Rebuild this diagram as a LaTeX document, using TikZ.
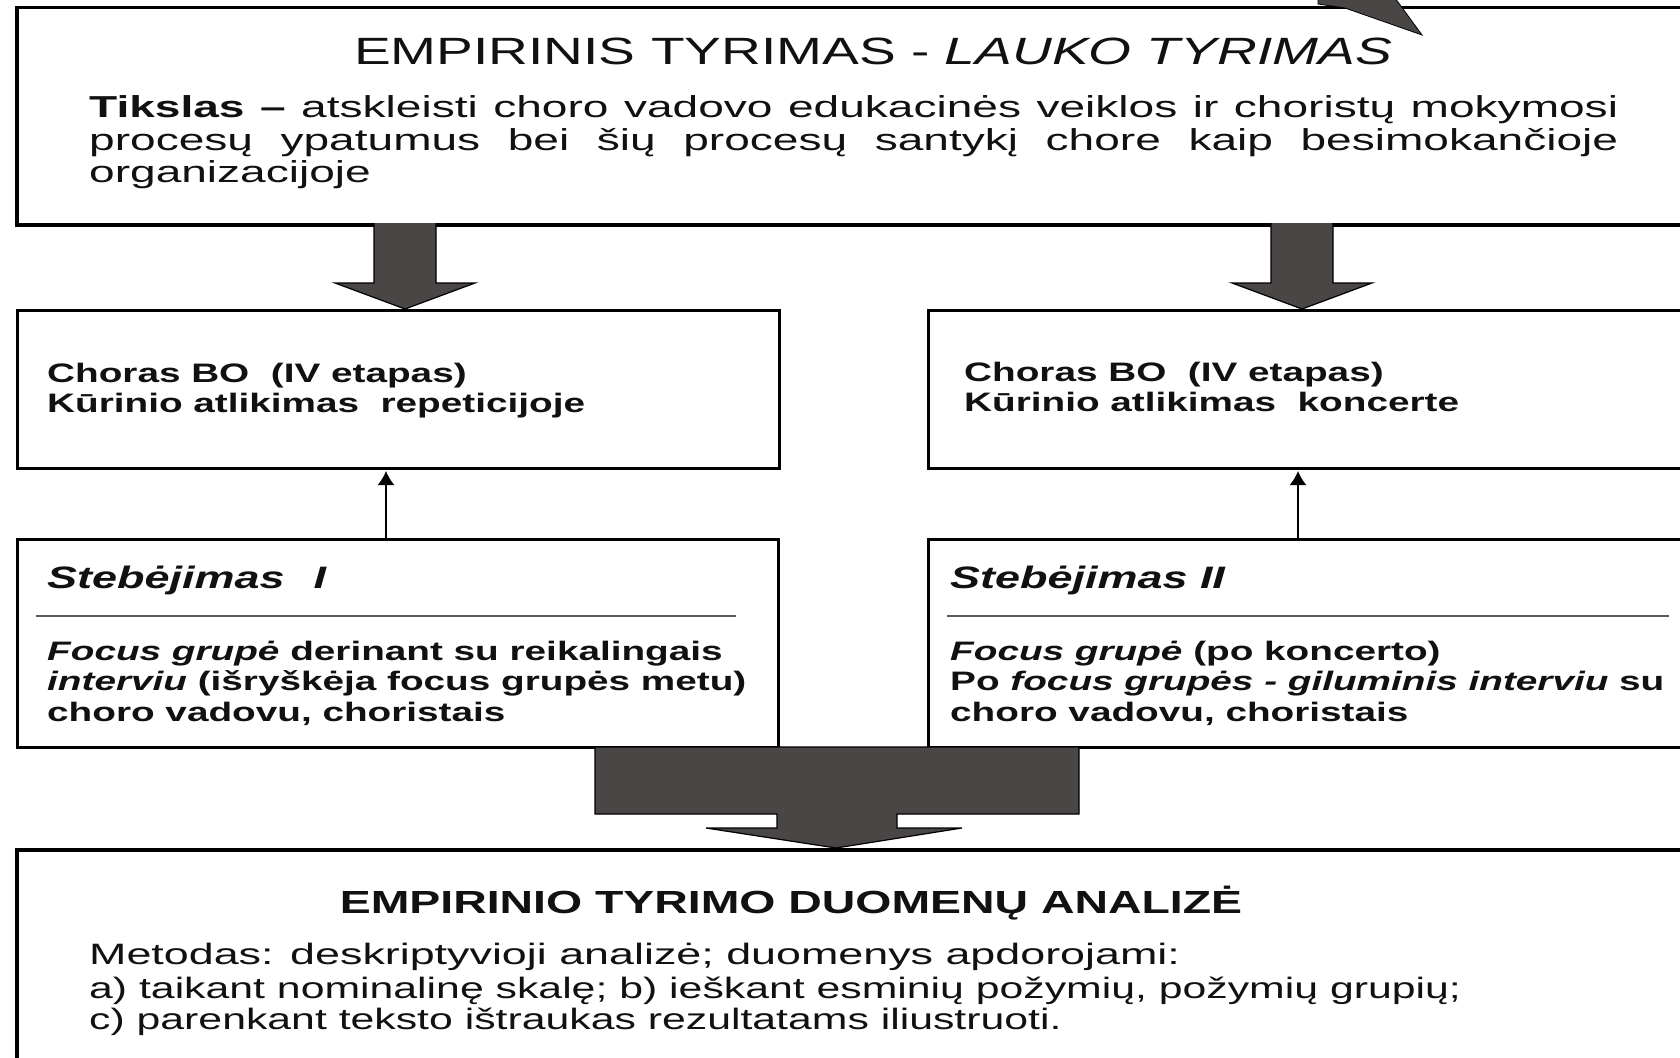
\documentclass[tikz,border=0pt]{standalone}
\usepackage{fontspec}
\setmainfont[FakeStretch=1.45]{Liberation Sans}
\newfontfamily\goalfont[FakeStretch=1.52]{Liberation Sans}
\usetikzlibrary{arrows.meta}
\definecolor{arrowgray}{HTML}{4A4646}
\definecolor{ink}{HTML}{111111}
\begin{document}
\begin{tikzpicture}[x=1pt,y=-1pt,
  frame/.style={draw=black, fill=white, inner sep=0pt, anchor=north west},
  txt/.style={inner sep=0pt, anchor=base west, text=ink},
  blockarrow/.style={fill=arrowgray, draw=black, line width=1.2pt, line join=miter},
  thinarrow/.style={line width=1.8pt, shorten >=1.5pt, -{Latex[length=14pt,width=17pt]}},
  sepline/.style={draw=black!65, line width=1.5pt},
  fgoal/.style={font=\goalfont\fontsize{30.3}{36}\selectfont},
  fbox/.style={font=\fontsize{26.7}{31}\selectfont\bfseries},
  fobs/.style={font=\fontsize{31}{36}\selectfont\bfseries\itshape},
  fmeth/.style={font=\fontsize{29.5}{34}\selectfont}]
\useasboundingbox (0,0) rectangle (1680,1057);
\clip (0,0) rectangle (1680,1057);
\fill[white] (0,0) rectangle (1680,1057);

% boxes
\node[frame, line width=3.5pt, minimum width=1700pt, minimum height=217pt] (goal) at (15,6) {};
\node[frame, line width=2.5pt, minimum width=762pt, minimum height=158pt] (c1) at (16,309) {};
\node[frame, line width=2.5pt, minimum width=800pt, minimum height=158pt] (c2) at (927,309) {};
\node[frame, line width=3pt, minimum width=761pt, minimum height=208pt] (s1) at (16,538) {};
\node[frame, line width=3pt, minimum width=800pt, minimum height=208pt] (s2) at (927,538) {};
\node[frame, line width=3.5pt, minimum width=1700pt, minimum height=240pt] (an) at (15,848) {};

% fragment of an arrow at the top right
\filldraw[blockarrow, line width=0.8pt] (1318,-2) -- (1395,-2) -- (1422,35) -- (1345,8) -- (1318,4) -- cycle;

% block arrows from the goal box
\filldraw[blockarrow] (374,223) -- (374,283) -- (335,283) -- (405,309) -- (475,283) -- (436,283) -- (436,223);
\filldraw[blockarrow] (1271,223) -- (1271,283) -- (1232,283) -- (1302,309) -- (1372,283) -- (1333,283) -- (1333,223);

% thin arrows
\coordinate (xa) at (386,0);
\coordinate (xb) at (1298,0);
\draw[thinarrow] (s1.north -| xa) -- (c1.south -| xa);
\draw[thinarrow] (s2.north -| xb) -- (c2.south -| xb);

% bottom block arrow
\filldraw[blockarrow] (595,747) -- (1079,747) -- (1079,814) -- (897,814) -- (897,828) -- (962,828)
  -- (836,848) -- (706,828) -- (777,828) -- (777,814) -- (595,814) -- cycle;

% goal text
\node[txt, anchor=base] (t0) at (873,65) {\fontsize{38}{44}\selectfont EMPIRINIS TYRIMAS - \itshape LAUKO TYRIMAS};
\node[txt, fgoal] (t1) at (89,117) {\makebox[1529pt][s]{\textbf{Tikslas –} atskleisti choro vadovo edukacinės veiklos ir choristų mokymosi}};
\node[txt, fgoal] (t2) at (89,150) {\makebox[1529pt][s]{procesų ypatumus bei šių procesų santykį chore kaip besimokančioje}};
\node[txt, fgoal] (t3) at (89,182) {organizacijoje};

% choir boxes
\node[txt, fbox] (c1a) at (47,382) {Choras BO\ \ (IV etapas)};
\node[txt, fbox] (c1b) at (47,412) {Kūrinio atlikimas\ \ repeticijoje};
\node[txt, fbox] (c2a) at (964,381) {Choras BO\ \ (IV etapas)};
\node[txt, fbox] (c2b) at (964,411) {Kūrinio atlikimas\ \ koncerte};

% observation boxes
\node[txt, fobs] (s1h) at (47,588) {Stebėjimas\hspace{29pt}I};
\node[txt, fobs] (s2h) at (950,588) {Stebėjimas II};
\draw[sepline] (36,616) -- (736,616);
\draw[sepline] (947,616) -- (1669,616);
\node[txt, fbox] (s1a) at (47,660) {\textit{Focus grupė} derinant su reikalingais};
\node[txt, fbox] (s1b) at (47,690) {\textit{interviu} (išryškėja focus grupės metu)};
\node[txt, fbox] (s1c) at (47,721) {choro vadovu, choristais};
\node[txt, fbox] (s2a) at (950,660) {\textit{Focus grupė} (po koncerto)};
\node[txt, fbox] (s2b) at (950,690) {Po \textit{focus grupės - giluminis interviu} su};
\node[txt, fbox] (s2c) at (950,721) {choro vadovu, choristais};

% analysis box
\node[txt, anchor=base] (a0) at (791,913) {\fontsize{32}{38}\selectfont\bfseries EMPIRINIO TYRIMO DUOMENŲ ANALIZĖ};
\node[txt, fmeth] (a1) at (89,964) {\goalfont Metodas: deskriptyvioji analizė; duomenys apdorojami:};
\node[txt, fmeth] (a2) at (89,998) {a) taikant nominalinę skalę; b) ieškant esminių požymių, požymių grupių;};
\node[txt, fmeth] (a3) at (89,1029) {c) parenkant teksto ištraukas rezultatams iliustruoti.};
\end{tikzpicture}
\end{document}
